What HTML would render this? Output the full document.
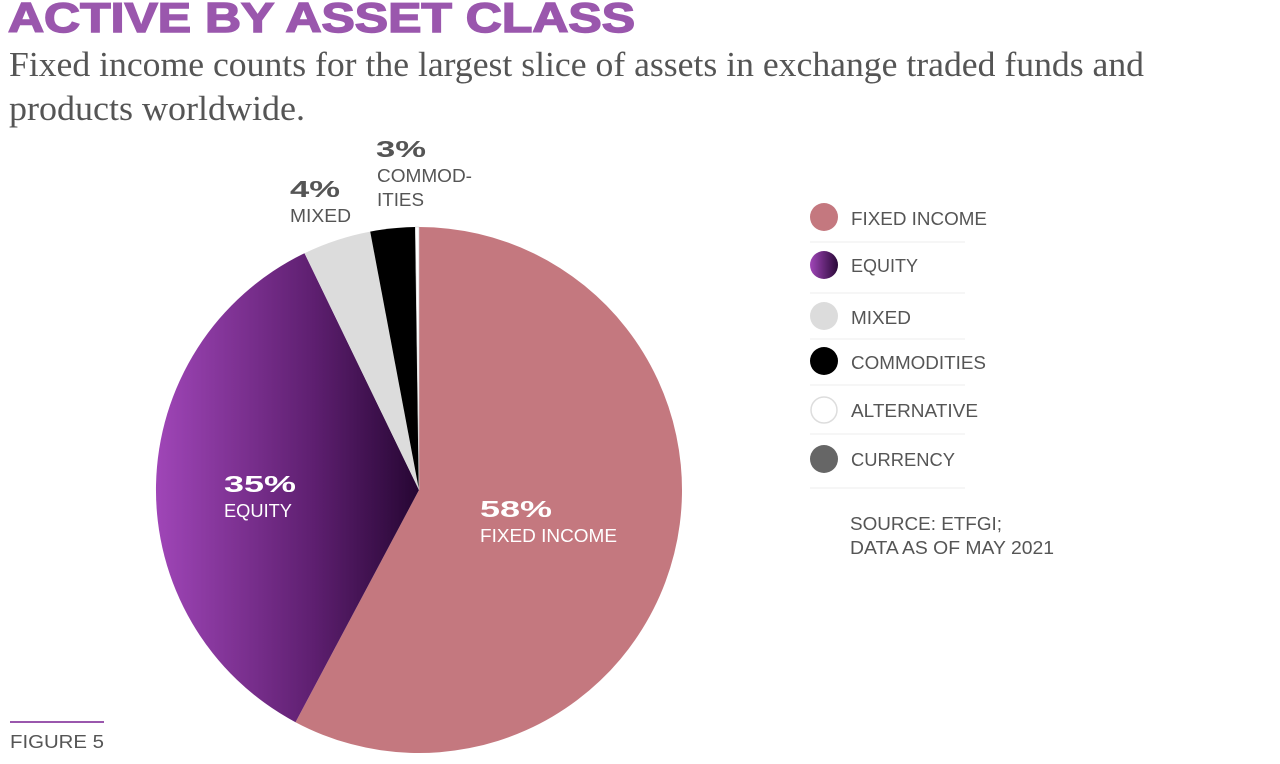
<!DOCTYPE html>
<html><head><meta charset="utf-8"><style>html,body{margin:0;padding:0;background:#fff}svg{display:block}</style></head>
<body>
<svg width="1280" height="764" viewBox="0 0 1280 764" xmlns="http://www.w3.org/2000/svg">
<defs>
<linearGradient id="eq" x1="155" y1="0" x2="419" y2="0" gradientUnits="userSpaceOnUse">
<stop offset="0" stop-color="#a046b8"/><stop offset="0.6" stop-color="#5e1f70"/><stop offset="1" stop-color="#260633"/>
</linearGradient>
<linearGradient id="eqs" x1="0" y1="0" x2="1" y2="0">
<stop offset="0" stop-color="#a046b8"/><stop offset="1" stop-color="#2a0838"/>
</linearGradient>
</defs>
<text x="8" y="32" font-family="Liberation Sans, sans-serif" font-weight="bold" font-size="42" fill="#9a57ad" stroke="#9a57ad" stroke-width="1.5" textLength="627" lengthAdjust="spacingAndGlyphs">ACTIVE BY ASSET CLASS</text>
<g font-family="Liberation Serif, serif" font-size="35" fill="#555">
<text x="9" y="76" textLength="1135" lengthAdjust="spacingAndGlyphs">Fixed income counts for the largest slice of assets in exchange traded funds and</text>
<text x="9" y="120" textLength="296" lengthAdjust="spacingAndGlyphs">products worldwide.</text>
</g>
<path d="M419,490 L419,227 A263,263 0 1 1 295.5,722.2 Z" fill="#c4787f"/>
<path d="M419,490 L295.5,722.2 A263,263 0 0 1 304.5,253.2 Z" fill="url(#eq)"/>
<path d="M419,490 L304.5,253.2 A263,263 0 0 1 370.2,231.6 Z" fill="#dcdcdc"/>
<path d="M419,490 L370.2,231.6 A263,263 0 0 1 415.3,227 Z" fill="#000"/>
<path d="M419,490 L415.3,227 L419,227 Z" fill="#fff" stroke="#ccc" stroke-width="0.6"/>
<g font-family="Liberation Sans, sans-serif">
<text x="376" y="157" font-weight="bold" font-size="23" fill="#555" textLength="50" lengthAdjust="spacingAndGlyphs">3%</text>
<text x="377" y="182" font-size="18" fill="#555" textLength="95" lengthAdjust="spacingAndGlyphs">COMMOD-</text>
<text x="377" y="206" font-size="18" fill="#555" textLength="47" lengthAdjust="spacingAndGlyphs">ITIES</text>
<text x="290" y="197" font-weight="bold" font-size="23" fill="#555" textLength="50" lengthAdjust="spacingAndGlyphs">4%</text>
<text x="290" y="222" font-size="18" fill="#555" textLength="61" lengthAdjust="spacingAndGlyphs">MIXED</text>
<text x="224" y="492" font-weight="bold" font-size="23" fill="#fff" textLength="72" lengthAdjust="spacingAndGlyphs">35%</text>
<text x="224" y="517" font-size="18" fill="#fff" textLength="68" lengthAdjust="spacingAndGlyphs">EQUITY</text>
<text x="480" y="517" font-weight="bold" font-size="23" fill="#fff" textLength="72" lengthAdjust="spacingAndGlyphs">58%</text>
<text x="480" y="542" font-size="18" fill="#fff" textLength="137" lengthAdjust="spacingAndGlyphs">FIXED INCOME</text>
<g font-size="18" fill="#555">
<circle cx="824" cy="217" r="14" fill="#c4787f"/><text x="851" y="225" textLength="136" lengthAdjust="spacingAndGlyphs">FIXED INCOME</text>
<line x1="810" y1="242" x2="965" y2="242" stroke="#eee"/>
<circle cx="824" cy="265" r="14" fill="url(#eqs)"/><text x="851" y="272" textLength="67" lengthAdjust="spacingAndGlyphs">EQUITY</text>
<line x1="810" y1="293" x2="965" y2="293" stroke="#eee"/>
<circle cx="824" cy="316" r="14" fill="#dcdcdc"/><text x="851" y="324" textLength="60" lengthAdjust="spacingAndGlyphs">MIXED</text>
<line x1="810" y1="339" x2="965" y2="339" stroke="#eee"/>
<circle cx="824" cy="361" r="14" fill="#000"/><text x="851" y="369" textLength="135" lengthAdjust="spacingAndGlyphs">COMMODITIES</text>
<line x1="810" y1="385" x2="965" y2="385" stroke="#eee"/>
<circle cx="824" cy="410" r="13" fill="#fff" stroke="#ddd" stroke-width="1.5"/><text x="851" y="417" textLength="127" lengthAdjust="spacingAndGlyphs">ALTERNATIVE</text>
<line x1="810" y1="434" x2="965" y2="434" stroke="#eee"/>
<circle cx="824" cy="459" r="14" fill="#666"/><text x="851" y="466" textLength="104" lengthAdjust="spacingAndGlyphs">CURRENCY</text>
<line x1="810" y1="488" x2="965" y2="488" stroke="#eee"/>
<text x="850" y="530" textLength="152" lengthAdjust="spacingAndGlyphs">SOURCE:  ETFGI;</text>
<text x="850" y="554" textLength="204" lengthAdjust="spacingAndGlyphs">DATA AS OF MAY 2021</text>
</g>
<line x1="10" y1="722" x2="104" y2="722" stroke="#9a57ad" stroke-width="2"/>
<text x="10" y="748" font-size="18" fill="#555" textLength="94" lengthAdjust="spacingAndGlyphs">FIGURE 5</text>
</g>
</svg>
</body></html>
